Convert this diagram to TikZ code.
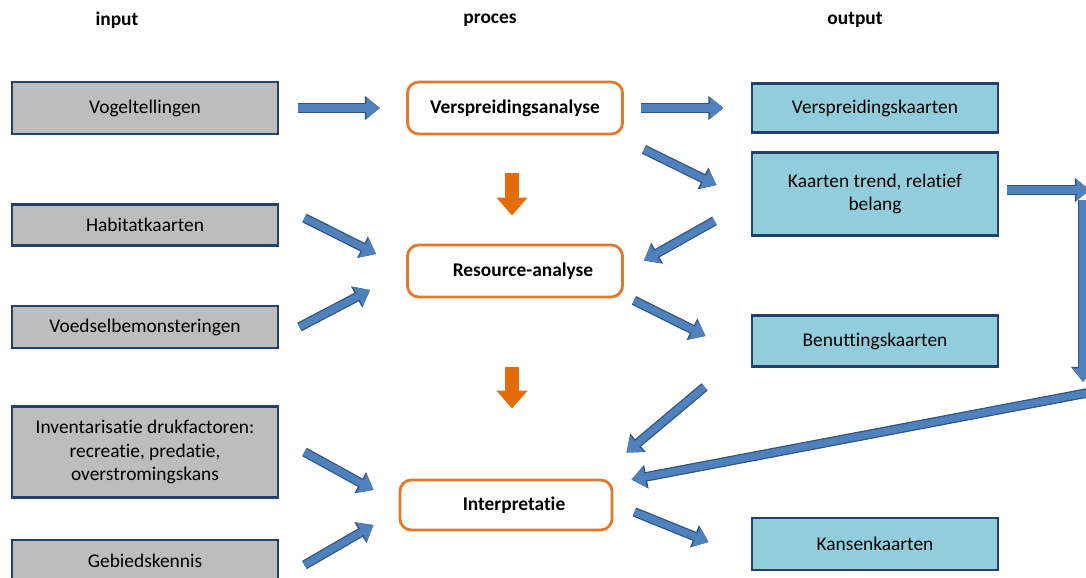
\documentclass[tikz,border=0pt]{standalone}
\usepackage{fontspec}
\setmainfont[Ligatures=NoCommon]{Carlito}
\usetikzlibrary{calc,arrows.meta}

\definecolor{inGray}{RGB}{189,189,189}
\definecolor{outBlue}{RGB}{146,205,220}
\definecolor{boxNavy}{RGB}{36,64,110}
\definecolor{procOrange}{RGB}{228,120,40}
\definecolor{arrFill}{RGB}{79,129,189}
\definecolor{arrLine}{RGB}{50,85,130}
\definecolor{downOrange}{RGB}{228,108,10}

\tikzset{
  inbox/.style={draw=boxNavy, line width=2pt, fill=inGray, minimum width=6.65cm,
    align=center, inner sep=2pt, font=\fontsize{13.8}{16.5}\selectfont},
  procbox/.style={draw=procOrange, line width=2pt, fill=white, rounded corners=8pt,
    minimum width=5.375cm, minimum height=1.3cm, font=\bfseries\fontsize{13.8}{16.5}\selectfont},
  outbox/.style={draw=boxNavy, line width=2pt, fill=outBlue, minimum width=6.15cm,
    align=center, inner sep=2pt, font=\fontsize{13.8}{16.5}\selectfont},
  header/.style={font=\bfseries\fontsize{13.8}{16.5}\selectfont},
  blockarrow/.style={arrFill, line width=5pt,
    -{Triangle[length=0.34cm,width=0.5cm]},
    preaction={draw=arrLine, line width=6.8pt, -{Triangle[length=0.38cm,width=0.58cm]}}},
  downarrow/.style={downOrange, line width=9.5pt,
    -{Triangle[length=0.45cm,width=0.75cm]}}
}

\begin{document}
\begin{tikzpicture}[x=0.025cm,y=-0.025cm]
    \useasboundingbox (0,0) rectangle (1086,578);

    % headers
    \node[header] (hin) at (117,20) {input};
    \node[header] (hpr) at (490,20) {proces};
    \node[header] (hout) at (855,20) {output};

    % input column
    \node[inbox, minimum height=1.3cm] (vog) at (145,108) {Vogeltellingen};
    \node[inbox, minimum height=1.025cm] (hab) at (145,225) {Habitatkaarten};
    \node[inbox, minimum height=1.05cm] (voe) at (145,327) {Voedselbemonsteringen};
    \node[inbox, minimum height=2.275cm] (inv) at (145,452)
        {Inventarisatie drukfactoren:\\recreatie, predatie,\\overstromingskans};
    \node[inbox, minimum height=1.05cm] (geb) at (145,561) {Gebiedskennis};

    % process column
    \node[procbox] (vsa) at (515,108) {Verspreidingsanalyse};
    \node[procbox] (res) at (515,271) {\hspace{0.4cm}Resource-analyse};
    \node[procbox, minimum width=5.3cm, minimum height=1.25cm] (int) at (506,505)
        {\hspace{0.4cm}Interpretatie};

    % output column
    \node[outbox, minimum height=1.225cm] (vk) at (875,108) {Verspreidingskaarten};
    \node[outbox, minimum height=2.075cm] (kt) at (875,194) {Kaarten trend, relatief\\belang};
    \node[outbox, minimum height=1.275cm] (ben) at (875,341) {Benuttingskaarten};
    \node[outbox, minimum height=1.3cm] (kan) at (875,544) {Kansenkaarten};

    % loop on the right edge
    \coordinate (rt) at (1090,190);
    \coordinate (rv) at (1083,200);
    \coordinate (rb) at (1083,382);
    \coordinate (rl) at (1092,392);

    % orange arrows
    \draw[downarrow] ($(vsa.south)+(-3,38)$) -- ($(res.north)+(-3,-28)$);
    \draw[downarrow] ($(res.south)+(-3,69)$) -- ($(int.north)+(6,-70)$);

    % blue arrows
    \draw[blockarrow] ($(vog.east)+(19,0)$) -- ($(vsa.west)+(-26,0)$);
    \draw[blockarrow] ($(vsa.east)+(17,0)$) -- ($(vk.west)+(-27,0)$);
    \draw[blockarrow] ($(vsa.south east)+(20,14)$) -- ($(kt.north west)+(-34,34)$);
    \draw[blockarrow] ($(kt.south west)+(-36,-16)$) -- ($(res.north east)+(20,17)$);
    \draw[blockarrow] ($(hab.east)+(25,-7)$) -- ($(res.west)+(-30,-17)$);
    \draw[blockarrow] ($(voe.east)+(20,0)$) -- ($(res.west)+(-36,19)$);
    \draw[blockarrow] ($(res.south east)+(10,2)$) -- ($(ben.west)+(-45,-5)$);
    \draw[blockarrow] ($(ben.south west)+(-46,19)$) -- ($(int.north east)+(13,-26)$);
    \draw[blockarrow] (rl) -- ($(int.north east)+(18,1)$);
    \draw[blockarrow] ($(kt.east)+(8,-4)$) -- (rt);
    \draw[blockarrow] (rv) -- (rb);
    \draw[blockarrow] ($(inv.east)+(25,0)$) -- ($(int.west)+(-25,-15)$);
    \draw[blockarrow] ($(geb.east)+(25,4)$) -- ($(int.west)+(-25,20)$);
    \draw[blockarrow] ($(int.east)+(21,7)$) -- ($(kan.west)+(-42,-2)$);
\end{tikzpicture}
\end{document}
